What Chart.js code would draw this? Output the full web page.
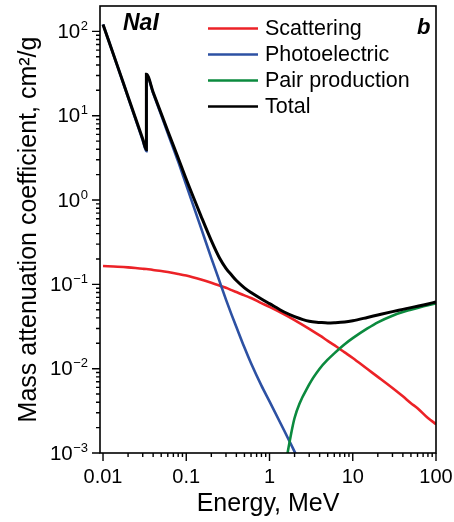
<!DOCTYPE html>
<html>
<head>
<meta charset="utf-8">
<script src="https://cdn.jsdelivr.net/npm/chart.js@4.4.0/dist/chart.umd.min.js"></script>
<style>
  html, body { margin: 0; padding: 0; background: #fff; }
</style>
</head>
<body>
<canvas id="chart" width="454" height="522"></canvas>
<script>
// photon energy grid, MeV (the iodine K edge is listed twice)
const energy = [0.01, 0.015, 0.02, 0.03, 0.0332, 0.0332, 0.04, 0.05, 0.06, 0.08,
  0.1, 0.15, 0.2, 0.25, 0.3, 0.35, 0.4, 0.5, 0.6, 0.8,
  1, 1.5, 2, 3, 4, 5, 6, 8, 10, 15,
  20, 30, 40, 50, 60, 80, 100];

// mass attenuation coefficients, cm2/g
const scattering = [0.165, 0.162, 0.159, 0.153, 0.152, 0.152, 0.148, 0.144, 0.140, 0.133,
  0.127, 0.114, 0.1045, 0.097, 0.091, 0.0855, 0.081, 0.074, 0.069, 0.060,
  0.054, 0.044, 0.0376, 0.0296, 0.0248, 0.0214, 0.019, 0.0156, 0.0134, 0.0099,
  0.008, 0.0059, 0.0047, 0.0039, 0.0034, 0.0026, 0.0022];
const photoelectric = [121, 38, 16.5, 5.1, 3.8, 31, 18.6, 10.2, 6.2, 2.85,
  1.5, 0.47, 0.205, 0.11, 0.066, 0.0438, 0.0312, 0.0178, 0.0116, 0.0063,
  0.0041, 0.00185, 0.00104, 0.00046, null, null, null, null, null, null,
  null, null, null, null, null, null, null];
const pairProduction = [null, null, null, null, null, null, null, null, null, null,
  null, null, null, null, null, null, null, null, null, null,
  null, 0.0006, 0.0026, 0.0065, 0.0100, 0.0128, 0.0152, 0.0195, 0.023, 0.030,
  0.0355, 0.0425, 0.047, 0.050, 0.0525, 0.0565, 0.0595];
const total = [121, 38.2, 16.8, 5.3, 3.95, 31, 19, 10.6, 6.6, 3.15,
  1.76, 0.65, 0.33, 0.207, 0.155, 0.129, 0.111, 0.091, 0.080, 0.067,
  0.059, 0.047, 0.0415, 0.0365, 0.0354, 0.0348, 0.035, 0.0357, 0.037, 0.0405,
  0.0433, 0.0475, 0.0505, 0.053, 0.055, 0.0585, 0.062];

const xTickLabels = ['0.01', '0.1', '1', '10', '100'];
const yTickExponents = ['-3', '-2', '-1', '0', '1', '2'];

const FONT = '"Liberation Sans", Arial, Helvetica, sans-serif';

function pts(series) {
  return energy.map((e, i) => ({ x: e, y: series[i] }));
}

// box, log ticks, tick labels, legend and panel text
const frame = {
  id: 'frame',
  afterDraw(chart) {
    const { ctx, chartArea: a, scales: { x, y } } = chart;
    ctx.save();
    ctx.strokeStyle = '#000';
    ctx.lineWidth = 1.6;
    ctx.strokeRect(a.left, a.top, a.right - a.left, a.bottom - a.top);

    ctx.lineWidth = 1.4;
    ctx.beginPath();
    for (let k = -3; k <= 2; k++) {
      for (let m = 1; m <= 9; m++) {
        const v = m * Math.pow(10, k);
        if (v >= x.min && v <= x.max) {
          const px = x.getPixelForValue(v);
          ctx.moveTo(px, a.bottom);
          ctx.lineTo(px, a.bottom + (m === 1 ? 8 : 4));
        }
        if (v >= y.min && v < y.max) {
          const py = y.getPixelForValue(v);
          ctx.moveTo(a.left, py);
          ctx.lineTo(a.left - (m === 1 ? 8 : 4), py);
        }
      }
    }
    ctx.stroke();

    ctx.fillStyle = '#000';
    ctx.font = '20px ' + FONT;
    ctx.textAlign = 'center';
    ctx.textBaseline = 'middle';
    xTickLabels.forEach(t => {
      ctx.fillText(t, x.getPixelForValue(parseFloat(t)), a.bottom + 24);
    });

    yTickExponents.forEach(t => {
      const py = y.getPixelForValue(Math.pow(10, parseFloat(t)));
      const right = 88;
      const sup = t.replace('-', '\u2212');
      ctx.font = '13px ' + FONT;
      ctx.textAlign = 'right';
      ctx.fillText(sup, right, py - 5);
      const supW = ctx.measureText(sup).width;
      ctx.font = '20.5px ' + FONT;
      ctx.fillText('10', right - supW - 0.5, py + 1);
    });

    // legend
    ctx.textAlign = 'left';
    ctx.font = '21.5px ' + FONT;
    [0, 1, 2, 3].forEach(i => {
      const ds = chart.data.datasets[i];
      const ly = 28.5 + i * 26;
      ctx.strokeStyle = ds.borderColor;
      ctx.lineWidth = 2.6;
      ctx.beginPath();
      ctx.moveTo(208, ly);
      ctx.lineTo(258, ly);
      ctx.stroke();
      ctx.fillText(ds.label, 265, ly + 1);
    });

    ctx.font = 'italic bold 23px ' + FONT;
    ctx.fillText('NaI', 123, 24);
    ctx.font = 'italic bold 22px ' + FONT;
    ctx.fillText('b', 417, 28);
    ctx.restore();
  }
};

new Chart(document.getElementById('chart'), {
  type: 'line',
  data: {
    datasets: [
      { label: 'Scattering', data: pts(scattering), borderColor: '#ec2227', borderWidth: 2.6, order: 3 },
      { label: 'Photoelectric', data: pts(photoelectric), borderColor: '#2d51a3', borderWidth: 2.6, order: 2 },
      { label: 'Pair production', data: pts(pairProduction), borderColor: '#0b8a3e', borderWidth: 2.6, order: 1 },
      { label: 'Total', data: pts(total), borderColor: '#000000', borderWidth: 3, order: 0 }
    ]
  },
  options: {
    responsive: false,
    animation: false,
    events: [],
    elements: {
      point: { radius: 0 },
      line: { cubicInterpolationMode: 'monotone', borderJoinStyle: 'miter' }
    },
    layout: { padding: { top: 6, right: 18, left: 0, bottom: 0 } },
    plugins: { legend: { display: false }, tooltip: { enabled: false } },
    scales: {
      x: {
        type: 'logarithmic',
        min: 0.0092,
        max: 100,
        grid: { display: false },
        border: { display: false },
        ticks: { display: false },
        title: { display: true, text: 'Energy, MeV', color: '#000', font: { size: 25, family: FONT }, padding: { top: 0, bottom: 2.5 } },
        afterFit: s => { s.height = 69; }
      },
      y: {
        type: 'logarithmic',
        min: 0.001,
        max: 200,
        grid: { display: false },
        border: { display: false },
        ticks: { display: false },
        title: { display: true, text: 'Mass attenuation coefficient, cm\u00b2/g', color: '#000', font: { size: 25, family: FONT }, padding: { top: 14, bottom: 0 } },
        afterFit: s => { s.width = 100; }
      }
    }
  },
  plugins: [frame]
});
</script>
</body>
</html>
